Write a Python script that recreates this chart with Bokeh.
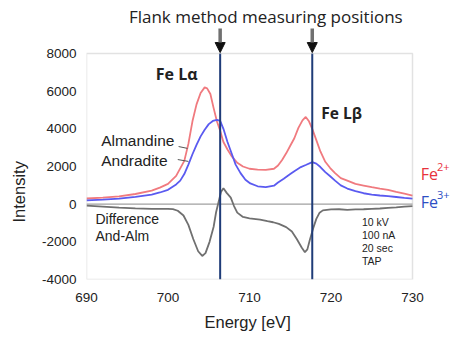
from bokeh.plotting import figure
from bokeh.models import (Label, Arrow, NormalHead, FixedTicker, Range1d, Title,
                          PrintfTickFormatter, BoxAnnotation)
from bokeh.embed import file_html
from bokeh.resources import INLINE

# Almandine (Fe2+) spectrum
alm_energy = [690, 692, 694, 696, 698, 699, 700, 701, 701.5, 702, 702.5, 703, 703.5, 704, 704.5,
              704.8, 705.2, 705.6, 706, 706.4, 706.8, 707.3, 707.8, 708.5, 709.2, 710, 711, 712,
              713, 713.5, 714, 714.5, 715, 715.5, 716, 716.5, 716.9, 717.3, 717.7, 718.2, 718.7,
              719.3, 719.9, 720.5, 721.2, 722, 723, 724, 725, 726, 727, 728, 729, 730]
alm_intensity = [300, 350, 410, 540, 720, 880, 1080, 1500, 1900, 2300, 3200, 4400, 5300, 5900, 6200,
                 6150, 5850, 5100, 4400, 3900, 3300, 2900, 2550, 2200, 2000, 1880, 1830, 1820,
                 1880, 2050, 2350, 2700, 3100, 3500, 4050, 4450, 4630, 4400, 4000, 3400, 2800,
                 2250, 1920, 1650, 1380, 1250, 1080, 990, 900, 820, 760, 650, 560, 460]

# Andradite (Fe3+) spectrum
and_energy = [690, 692, 694, 696, 698, 699, 700, 701, 701.5, 702, 702.5, 703, 703.5, 704, 704.5,
              705, 705.5, 706, 706.4, 706.8, 707.3, 707.8, 708.3, 708.9, 709.5, 710.1, 711, 712,
              713, 713.5, 714.2, 715, 715.5, 716.3, 716.9, 717.7, 718.2, 718.7, 719.3, 719.9,
              720.5, 721.2, 722, 723, 724, 725, 726, 727, 728, 729, 730]
and_intensity = [200, 240, 290, 390, 510, 620, 760, 1050, 1250, 1600, 2100, 2650, 3150, 3600, 3950,
                 4250, 4420, 4480, 4420, 4000, 3300, 2700, 2100, 1650, 1300, 1100, 950, 900,
                 980, 1150, 1350, 1600, 1750, 1970, 2080, 2230, 2150, 1970, 1700, 1480,
                 1250, 1000, 830, 690, 580, 510, 460, 430, 380, 330, 290]

# Difference And - Alm
diff_energy = [690, 692, 694, 696, 698, 700, 700.6, 701.2, 701.9, 702.5, 703.1, 703.7, 704.2, 704.6,
               705.1, 705.6, 705.9, 706.2, 706.5, 706.8, 707.2, 707.7, 708.1, 708.5, 709.2, 710,
               711.3, 712.2, 712.9, 713.6, 714.5, 715.2, 715.8, 716.4, 716.8, 717.1, 717.4, 717.8,
               718.2, 718.6, 719, 720, 721, 722, 723, 724, 725, 726, 727, 728, 729, 730]
diff_intensity = [-80, -130, -180, -220, -250, -250, -260, -350, -600, -1100, -1850, -2500, -2750, -2600,
                  -2000, -1200, -430, 100, 650, 850, 600, 350, -100, -450, -680, -750,
                  -820, -900, -960, -1050, -1220, -1450, -1850, -2300, -2550, -2400, -1900, -1300,
                  -780, -450, -330, -280, -270, -300, -280, -270, -250, -230, -200, -170, -130, -100]

measuring_positions = [706.4, 717.7]
x_ticks = [690, 700, 710, 720, 730]
y_ticks = [-4000, -2000, 0, 2000, 4000, 6000, 8000]
X0, X1 = 690, 730
Y0, Y1 = -4000, 8000

# layout (pixels): plot box 326 x 226, frame extended to the top and right edges
W, H = 451, 338
LEFT, BOTTOM = 86, 59
BOX_W, BOX_H = 326, 226
frame_w, frame_h = W - LEFT, H - BOTTOM
x_end = X0 + (X1 - X0) * frame_w / BOX_W
y_end = Y0 + (Y1 - Y0) * frame_h / BOX_H

p = figure(width=W, height=H, output_backend="svg", toolbar_location=None,
           x_range=Range1d(X0, x_end), y_range=Range1d(Y0, y_end),
           min_border_left=LEFT, min_border_right=0, min_border_top=0, min_border_bottom=BOTTOM)
p.background_fill_color = "white"
p.border_fill_color = "white"
p.outline_line_color = None
p.xgrid.visible = False
p.ygrid.visible = False

for ax in (p.xaxis[0], p.yaxis[0]):
    ax.axis_line_color = None
    ax.major_tick_line_color = None
    ax.minor_tick_line_color = None
    ax.major_tick_out = 0
    ax.major_tick_in = 0
    ax.minor_tick_out = 0
    ax.major_label_text_font = "Liberation Sans"
    ax.major_label_text_font_size = "13.5px"
    ax.major_label_text_color = "#222222"
p.xaxis.ticker = FixedTicker(ticks=x_ticks)
p.yaxis.ticker = FixedTicker(ticks=y_ticks)
p.yaxis.formatter = PrintfTickFormatter(format="%d")
p.xaxis.major_label_standoff = 13
p.yaxis.major_label_standoff = 10

# axis titles placed along the plot box
p.add_layout(Title(text="Energy [eV]", align="left", offset=118, vertical_align="bottom",
                   standoff=12, text_font="Liberation Sans", text_font_size="16.5px",
                   text_font_style="normal", text_color="#222222"), "below")
p.add_layout(Title(text="Intensity", align="left", offset=57, vertical_align="top",
                   standoff=18, text_font="Liberation Sans", text_font_size="16.5px",
                   text_font_style="normal", text_color="#222222"), "left")

# plot box
p.add_layout(BoxAnnotation(left=X0, right=X1, bottom=Y0, top=Y1, fill_alpha=0,
                           line_color="#a0a0a0", line_width=1.5))
p.segment(x0=[X0], y0=[0], x1=[X1], y1=[0], line_color="#a0a0a0", line_width=1.2)

p.line(alm_energy, alm_intensity, line_color="#f07a7f", line_width=1.8)
p.line(and_energy, and_intensity, line_color="#5a5af0", line_width=1.8)
p.line(diff_energy, diff_intensity, line_color="#707070", line_width=1.8)

p.segment(x0=measuring_positions, y0=[Y0] * 2, x1=measuring_positions, y1=[Y1] * 2,
          line_color="#1f3c78", line_width=2)
for xp in measuring_positions:
    p.add_layout(Arrow(end=NormalHead(size=10, fill_color="#111111", line_color="#111111"),
                       x_start=xp, y_start=Y1 + 1330, x_end=xp, y_end=Y1 + 50,
                       line_color="#707070", line_width=3.5))

def lab(x, y, t, size, color="#222222", font="Liberation Sans", style="normal", align="left"):
    p.add_layout(Label(x=x, y=y, text=t, text_font=font, text_font_size=size,
                       text_color=color, text_font_style=style, text_align=align,
                       text_baseline="middle"))

lab(712, 9965, "Flank method measuring positions", "17px", font="Open Sans", align="center")
lab(698.5, 6900, "Fe L\u03b1", "16px", font="Open Sans", style="bold")
lab(718.8, 4850, "Fe L\u03b2", "15.5px", font="Open Sans", style="bold")
lab(691.8, 3400, "Almandine", "15.5px")
lab(691.8, 2330, "Andradite", "15.5px")
p.segment(x0=[701.3, 701.2], y0=[3060, 2370], x1=[702.4, 702.5], y1=[2960, 2270],
          line_color="#555555", line_width=1)
lab(691.1, -780, "Difference", "14px")
lab(691.1, -1670, "And-Alm", "14px")
for i, t in enumerate(["10 kV", "100 nA", "20 sec", "TAP"]):
    lab(723.8, -970 - i * 690, t, "10.5px")

lab(731.0, 1580, "Fe", "16px", color="#e8323c", font="Open Sans")
lab(733.0, 1950, "2+", "11px", color="#e8323c", font="Open Sans")
lab(731.0, 140, "Fe", "16px", color="#2d4fc4", font="Open Sans")
lab(733.0, 510, "3+", "11px", color="#2d4fc4", font="Open Sans")

open("out.html", "w").write(file_html(p, INLINE))
